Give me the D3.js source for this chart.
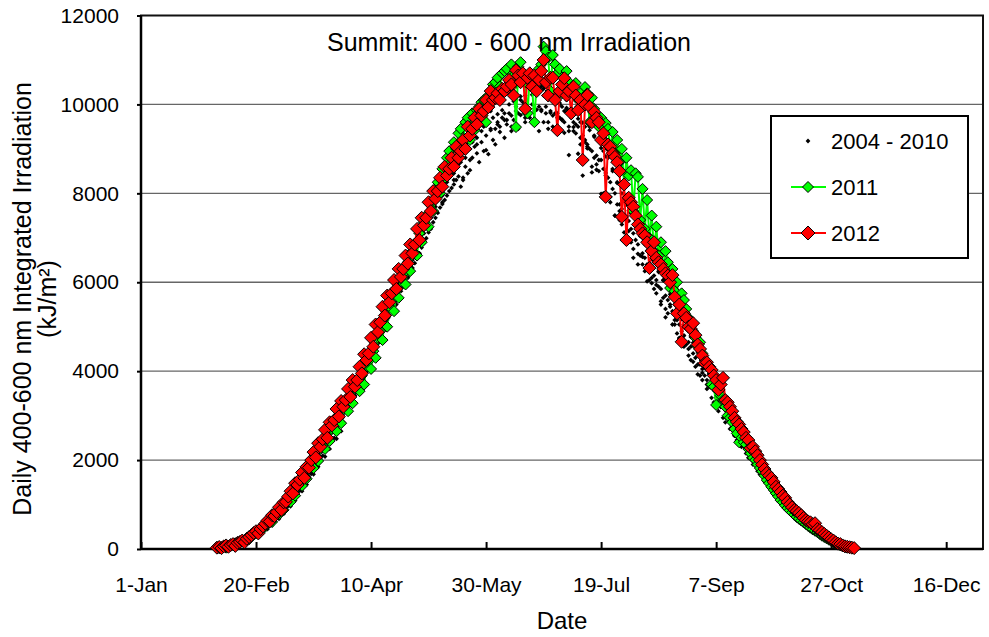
<!DOCTYPE html>
<html><head><meta charset="utf-8">
<script src="https://cdn.jsdelivr.net/npm/d3@7"></script>
<style>body{margin:0;background:#fff} text{font-family:Arial,"Liberation Sans",sans-serif;fill:#000}</style>
</head><body><svg id="c" width="989" height="637"></svg>
<script>
const tickDays = [1,51,101,151,201,251,301,351];
const tickLabels = ["1-Jan","20-Feb","10-Apr","30-May","19-Jul","7-Sep","27-Oct","16-Dec"];
const yTicks = [0,2000,4000,6000,8000,10000,12000];
const seriesNames = ["2004 - 2010","2011","2012"];

// 2012 daily values, first day-of-year = 34
const start2012 = 34;
const vals2012 = [30,45,20,60,80,50,
90,110,70,140,160, 190,150,230,270,310, 360,400,350,450,510, 570,640,620,760,740,
830,940,880,1050,1060, 1180,1300,1250,1480,1440, 1560,1720,1600,1850,1830, 2000,2180,2060,2380,2300,
2470,2680,2500,2850,2780, 2900,3150,2980,3330,3200, 3350,3600,3420,3800,3650, 3800,4100,3950,4380,4250,
4400,4750,4550,5050,4880, 5100,5450,5250,5700,5550, 5750,6050,5850,6300,6120, 6300,6600,6420,6850,6650,
6850,7200,6950,7450,7280, 7450,7800,7600,8050,7880, 8050,8350,8150,8600,8400, 8550,8800,8600,9050,8800,
8950,9200,9000,9500,9300, 9450,9700,9550,9900,9750, 9850,10100,9940,10300,10100, 10150,10250,10100,10350,10300,
10400,10550,10450,10200,10770, 10650,10500,10700,9900,10600, 10700,10400,10650,10300,10550, 10750,11000,10500,10200,10600,
10600,10100,9420,10300,10450, 10590,10200,10300,9800,10400, 10200,9870,10100,8750,10000, 10210,9950,9600,9830,9700,
9600,9200,9350,7920,9100, 9050,8900,8820,8700,8500, 7470,8200,6950,7900,7800, 7700,7500,7300,7200,7100,
7050,6900,6320,6700,6900, 6550,6450,6400,6300,6200, 6150,6000,6160,5670,5300, 5500,4660,5300,5200,5000,
4950,5080,4810,4600,4500, 4350,4180,4200,4100,4030, 3900,3800,3580,3700,3850, 3350,3300,3200,3100,2950,
2860,2800,2700,2630,2500, 2450,2270,2300,2200,2110, 2000,1900,1800,1710,1650, 1600,1510,1400,1350,1280,
1200,1150,1060,1000,940, 880,850,810,760,700, 650,620,600,560,580, 450,420,380,340,300,
260,220,190,150,120, 110,80,60,50,40, 30,20];

// 2011 daily values, first day-of-year = 35
const start2011 = 35;
const vals2011 = [20,40,60,30,70,
80,100,130,110,150, 170,200,240,220,290, 330,360,420,470,450, 530,560,640,610,740,
800,780,920,880,1040, 1100,1060,1250,1200,1400, 1480,1420,1650,1580,1800, 1900,1820,2050,1980,2250,
2350,2250,2520,2430,2700, 2780,2650,2950,2830,3150, 3250,3100,3420,3280,3620, 3720,3550,3900,3700,4120,
4230,4050,4450,4300,4750, 4900,4700,5200,5000,5450, 5600,5350,5850,5650,6100, 6200,5950,6450,6250,6700,
6850,6600,7100,6900,7350, 7500,7250,7800,7600,8100, 8250,8000,8550,8350,8800, 8950,8700,9150,9000,9350,
9450,9200,9600,9700,9200, 9800,9420,9870,9950,10050, 10100,9600,10200,10300,10450, 10500,10600,10400,10700,10750,
10800,10550,10900,10650,9490, 10850,10950,10700,10500,9800, 10600,10400,9600,10550,10800, 10900,11300,11200,11050,10300,
11110,10900,10700,10800,10250, 10600,10750,10500,10300,10400, 10480,10100,9950,10300,10390, 10250,9600,10150,9900,9750,
9500,9700,9200,9580,9450, 9000,9380,8900,9200,8700, 9000,8200,8800,8400,8520, 7600,8450,8370,7400,8100,
7200,7850,7000,7500,6700, 7250,6600,6900,6300,6700, 6450,5870,6300,5800,6000, 5500,5750,5600,5400,5200,
5000,4900,4750,4550,4650, 4400,4250,4150,4100,3700, 3650,3240,3550,3450,3350, 3200,3000,2950,2850,2700,
2600,2400,2500,2400,2350, 2250,2150,2050,2000,1900, 1820,1750,1650,1550,1480, 1400,1330,1250,1180,1100,
1050,980,920,870,820, 770,720,680,640,600, 560,520,480,440,410, 380,340,300,270,240,
210,180,150,120,100, 80,60,45,35,25, 20];

// 2004 - 2010 daily values (three groups of years), first day-of-year = 36
const startBlack = 36;
const blackA = [40,30,60,50,
90,80,120,100,150, 170,210,190,260,300, 320,380,360,430,500, 510,590,560,660,700,
770,840,800,950,1010, 1060,1170,1120,1300,1400, 1420,1550,1500,1700,1750, 1860,1990,1930,2140,2200,
2300,2440,2380,2580,2620, 2700,2850,2780,3000,3050, 3250,3390,3330,3560,3580, 3700,3880,3880,4120,4200,
4300,4500,4480,4780,4850, 4950,5180,5150,5440,5450, 5600,5820,5750,6040,6000, 6100,6380,6300,6560,6500,
6650,6920,6850,7150,7100, 7250,7530,7450,7750,7700, 7850,8120,7950,8300,8250, 8350,8600,8450,8750,8650,
8700,9000,8800,9150,9000, 9150,9450,9250,9550,9400, 9500,9800,9600,9850,9700, 9450,9780,9500,9870,9650,
9650,10000,9750,10070,9850, 9800,10180,9900,10200,9950, 9900,10220,9850,10230,9950, 9850,10200,9800,10160,9850,
9750,10120,9700,10030,9650, 9600,9920,9500,9820,9400, 9350,9680,9250,9590,9150, 9050,9420,8950,9270,8850,
8750,9020,8550,8830,8350, 8250,8500,8000,8230,7750, 7650,7840,7400,7610,7200, 7100,7270,6850,7040,6650,
6550,6710,6350,6520,6150, 6050,6230,5850,6040,5700, 5600,5730,5350,5500,5150, 5050,5170,4800,4960,4650,
4550,4640,4300,4430,4150, 4050,4120,3800,3930,3650, 3580,3640,3350,3450,3200, 3120,3160,2900,2970,2750,
2660,2690,2480,2520,2330, 2250,2260,2080,2090,1920, 1840,1830,1690,1680,1540, 1470,1450,1320,1290,1170,
1100,1080,980,960,870, 810,790,720,700,640, 590,570,520,500,450, 410,390,340,310,280,
240,210,180,150,120, 100,70,50,40];
const blackB = [20,40,30,60,
60,90,80,120,110, 160,150,210,200,260, 290,280,350,340,420, 460,450,540,530,640,
690,680,800,790,920, 970,960,1100,1090,1250, 1310,1300,1470,1450,1620, 1690,1680,1870,1850,2040,
2100,2080,2270,2250,2440, 2500,2480,2680,2650,2850, 3100,3200,3300,3380,3450, 3560,3700,3750,3900,3980,
4100,4250,4350,4480,4620, 4750,4900,5000,5150,5250, 5380,5500,5600,5700,5800, 5900,6000,6120,6220,6320,
6430,6550,6650,6780,6880, 6990,7120,7230,7350,7450, 7560,7680,7760,7850,7950, 8050,8120,8200,8300,8380,
8150,8350,8600,8450,8750, 8800,9050,8900,8700,9150, 8950,9300,8880,9450,9200, 9100,9550,9380,9700,9250,
9550,9800,9400,9650,9950, 9450,9760,10050,9600,9850, 9700,10000,9550,9880,9400, 9880,9600,9950,9450,9810,
9500,9800,9350,9700,9660, 9360,10100,8860,9900,9490, 9800,8890,9600,8400,9500, 9010,9500,8470,9300,8530,
9200,7990,8950,8460,8800, 7920,8550,7500,8250,7600, 8000,7120,7750,7380,7550, 6550,7300,6640,7050,6570,
6850,6020,6650,5980,6450, 5940,6250,5570,6050,5210, 5880,5500,5650,5050,5420, 4730,5200,4800,4980,4500,
4770,4210,4550,3930,4350, 3960,4150,3700,3950,3720, 3760,3270,3570,3200,3380, 2960,3180,2910,2990,2550,
2600,2580,2420,2400,2250, 2200,2180,2020,2000,1850, 1800,1780,1640,1620,1500, 1440,1420,1290,1270,1150,
1080,1060,960,940,850, 790,780,700,690,620, 580,570,510,500,440, 400,390,330,320,270,
230,220,180,160,120, 100,80,60,40];
const blackC = [50,40,80,60,
100,90,140,120,170, 200,170,250,290,260, 350,390,380,470,520, 560,600,650,710,700,
820,880,870,990,1060, 1150,1200,1180,1380,1450, 1530,1580,1620,1760,1840, 1950,2020,2050,2220,2300,
2420,2480,2560,2650,2720, 2850,2900,3000,3100,3180, 3300,3200,3450,3550,3500, 3750,3850,3700,4050,4200,
4300,4450,4400,4750,4850, 5000,5150,4950,5400,5500, 5650,5750,5500,5950,6050, 6150,6300,6100,6500,6600,
6750,6850,6650,7100,7200, 7350,7450,7200,7700,7800, 7950,8050,7800,8300,8400, 8450,8550,8300,8700,8800,
8850,8300,9050,9150,8520, 9350,9450,9100,9600,9700, 9750,8970,9850,9420,10000, 10050,9600,10150,10200,9800,
10300,10350,9500,10450,10400, 10500,10100,10450,9700,10550, 10500,10400,9900,10450,10300, 10400,10350,10250,9600,10300,
10200,10150,9800,10000,9950, 9850,9900,9400,9700,9600, 9550,9500,9100,9300,9200, 9100,9000,8600,8800,8650,
8500,8750,8000,8400,7950, 7800,8100,7500,7750,7400, 7300,7500,6900,7150,6900, 6750,6950,6400,6600,6400,
6250,6400,6050,6100,5850, 5750,5900,5500,5650,5400, 5300,5450,5050,5150,4850, 4750,4900,4550,4600,4350,
4250,4400,4100,4150,3900, 3800,3900,3600,3650,3400, 3300,3400,3100,3200,2950, 2850,2950,2700,2750,2550,
2450,2550,2300,2380,2150, 2050,2150,1900,1980,1750, 1680,1770,1520,1600,1380, 1310,1400,1180,1250,1050,
990,1060,880,930,780, 730,780,650,680,570, 530,560,460,480,400, 370,390,300,320,240,
210,220,150,160,110, 80,90,40,30];
const blackGroups = [blackA, blackB, blackC];

const svg = d3.select("#c");
const x = d3.scaleLinear().domain([1, 367]).range([141, 983]);
const y = d3.scaleLinear().domain([0, 12000]).range([549, 15.5]);
const toPts = (start, vals) => vals.map((v, i) => ({d: start + i, v}));
const diamond = r => `M0,${-r}L${r},0L0,${r}L${-r},0Z`;

// gridlines
svg.append("g").selectAll("line").data(yTicks.filter(t => t > 0 && t < 12000)).join("line")
  .attr("x1", x.range()[0]).attr("x2", x.range()[1])
  .attr("y1", d => y(d)).attr("y2", d => y(d))
  .attr("stroke", "#666").attr("stroke-width", 1.3);

// frame
svg.append("rect").attr("x", x.range()[0]).attr("y", y(12000))
  .attr("width", x.range()[1] - x.range()[0]).attr("height", y(0) - y(12000))
  .attr("fill", "none").attr("stroke", "#111").attr("stroke-width", 2);

// axes
const yAxis = svg.append("g").attr("transform", `translate(${x.range()[0]},0)`)
  .call(d3.axisLeft(y).tickValues(yTicks).tickFormat(d3.format("d")).tickSize(4).tickPadding(18));
yAxis.select(".domain").remove();
yAxis.selectAll("line").attr("stroke", "#000").attr("stroke-width", 2);
yAxis.selectAll("text").attr("font-size", 21).attr("font-family", "Arial, Liberation Sans, sans-serif");

const xAxis = svg.append("g").attr("transform", `translate(0,${y(0)})`)
  .call(d3.axisBottom(x).tickValues(tickDays).tickFormat((d, i) => tickLabels[i]).tickSizeInner(-7).tickSizeOuter(0).tickPadding(28));
xAxis.select(".domain").remove();
xAxis.selectAll("line").attr("stroke", "#000").attr("stroke-width", 2);
xAxis.selectAll("text").attr("font-size", 21).attr("font-family", "Arial, Liberation Sans, sans-serif");

svg.append("line").attr("x1", x.range()[0]).attr("x2", x.range()[1]).attr("y1", y(0)).attr("y2", y(0)).attr("stroke", "#000").attr("stroke-width", 2.5);
svg.append("line").attr("x1", x.range()[0]).attr("x2", x.range()[0]).attr("y1", y(0)).attr("y2", y(12000)).attr("stroke", "#000").attr("stroke-width", 2.5);

// 2004-2010 dots
const gB = svg.append("g");
blackGroups.forEach(arr => {
  gB.append("g").selectAll("path").data(toPts(startBlack, arr)).join("path")
    .attr("d", diamond(2.4)).attr("transform", p => `translate(${x(p.d)},${y(p.v)})`).attr("fill", "#000");
});

const line = d3.line().x(p => x(p.d)).y(p => y(p.v));
function drawSeries(pts, color, r) {
  svg.append("path").datum(pts).attr("d", line).attr("fill", "none").attr("stroke", color).attr("stroke-width", 2);
  svg.append("g").selectAll("path").data(pts).join("path")
    .attr("d", diamond(r)).attr("transform", p => `translate(${x(p.d)},${y(p.v)})`)
    .attr("fill", color).attr("stroke", "#000").attr("stroke-width", 1);
}
drawSeries(toPts(start2011, vals2011), "#00FF00", 5.5);
drawSeries(toPts(start2012, vals2012), "#FF0000", 6.5);

// title
svg.append("text").attr("x", 509).attr("y", 51).attr("text-anchor", "middle").attr("font-size", 25)
  .text("Summit: 400 - 600 nm Irradiation");

// axis titles
svg.append("text").attr("x", 562).attr("y", 629).attr("text-anchor", "middle").attr("font-size", 24).text("Date");
const yt = svg.append("text").attr("transform", "translate(31,299) rotate(-90)").attr("text-anchor", "middle").attr("font-size", 25);
yt.append("tspan").attr("x", 0).attr("y", 0).text("Daily 400-600 nm Integrated Irradiation");
yt.append("tspan").attr("x", 0).attr("y", 25).text("(kJ/m²)");

// legend
const lg = svg.append("g");
lg.append("rect").attr("x", 771).attr("y", 116).attr("width", 197).attr("height", 142)
  .attr("fill", "#fff").attr("stroke", "#000").attr("stroke-width", 2);
const legY = [141, 187, 233];
lg.append("path").attr("d", diamond(2.4)).attr("transform", `translate(808,${legY[0]})`).attr("fill", "#000");
[["#00FF00", 5.5], ["#FF0000", 7]].forEach(([c, r], i) => {
  lg.append("line").attr("x1", 791).attr("x2", 826).attr("y1", legY[i + 1]).attr("y2", legY[i + 1]).attr("stroke", c).attr("stroke-width", 2);
  lg.append("path").attr("d", diamond(r)).attr("transform", `translate(808,${legY[i + 1]})`).attr("fill", c).attr("stroke", "#000").attr("stroke-width", 1);
});
seriesNames.forEach((n, i) => {
  lg.append("text").attr("x", 831).attr("y", legY[i]).attr("dy", "0.36em").attr("font-size", 22).text(n);
});
</script></body></html>
